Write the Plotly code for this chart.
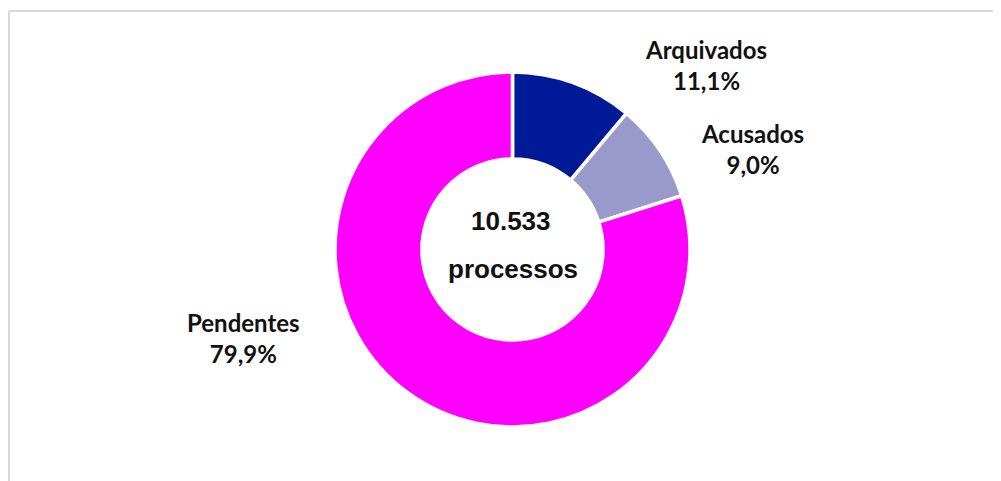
import plotly.graph_objects as go

# data
categorias = ["Arquivados", "Acusados", "Pendentes"]
percentuais = [11.1, 9.0, 79.9]
cores = ["#001996", "#9999CC", "#FF00FF"]
total_processos = "10.533"
total_rotulo = "processos"

W, H = 1001, 481
OFF = 8  # page body margin shifts the whole figure
cx, cy, r = 512.5 - OFF, 249.5 - OFF, 177.5  # donut centre / radius in pixels


def px_x(x):
    return x / W


def px_y(y):
    return 1 - y / H


fig = go.Figure()

fig.add_trace(go.Pie(
    labels=categorias,
    values=percentuais,
    hole=0.51,
    sort=False,
    direction="clockwise",
    rotation=0,
    textinfo="none",
    hoverinfo="label+percent",
    marker=dict(colors=cores, line=dict(color="white", width=3.5)),
    domain=dict(x=[px_x(cx - r), px_x(cx + r)],
                y=[px_y(cy + r), px_y(cy - r)]),
    showlegend=False,
))

# outside labels (pixel positions of label centres)
label_pos = [(706, 65), (752, 149), (243, 338)]
for nome, pct, (lx, ly) in zip(categorias, percentuais, label_pos):
    fig.add_annotation(
        x=px_x(lx - OFF), y=px_y(ly - OFF), xref="paper", yref="paper",
        xanchor="center", yanchor="middle",
        text="%s<br>%s%%" % (nome, ("%.1f" % pct).replace(".", ",")),
        showarrow=False, align="center",
        font=dict(family="Lato", size=24, color="#111111", weight="bold"),
    )

# centre text
fig.add_annotation(
    x=px_x(cx - 2), y=px_y(221 - OFF), xref="paper", yref="paper",
    xanchor="center", yanchor="middle",
    text="<b>%s</b>" % total_processos, showarrow=False,
    font=dict(family="Liberation Sans", size=26, color="#111111"),
)
fig.add_annotation(
    x=px_x(cx), y=px_y(269 - OFF), xref="paper", yref="paper",
    xanchor="center", yanchor="middle",
    text="<b>%s</b>" % total_rotulo, showarrow=False,
    font=dict(family="Liberation Sans", size=26, color="#111111"),
)

# frame (top and left edge only visible)
fig.add_shape(type="line", xref="paper", yref="paper",
              x0=px_x(9 - OFF), x1=1.0, y0=px_y(11 - OFF), y1=px_y(11 - OFF),
              line=dict(color="#d9d9d9", width=2))
fig.add_shape(type="line", xref="paper", yref="paper",
              x0=px_x(9 - OFF), x1=px_x(9 - OFF), y0=px_y(11 - OFF), y1=0,
              line=dict(color="#d9d9d9", width=2))

fig.update_layout(
    width=W, height=H,
    margin=dict(l=0, r=0, t=0, b=0),
    paper_bgcolor="white",
    plot_bgcolor="white",
)

fig.write_html("out.html")
